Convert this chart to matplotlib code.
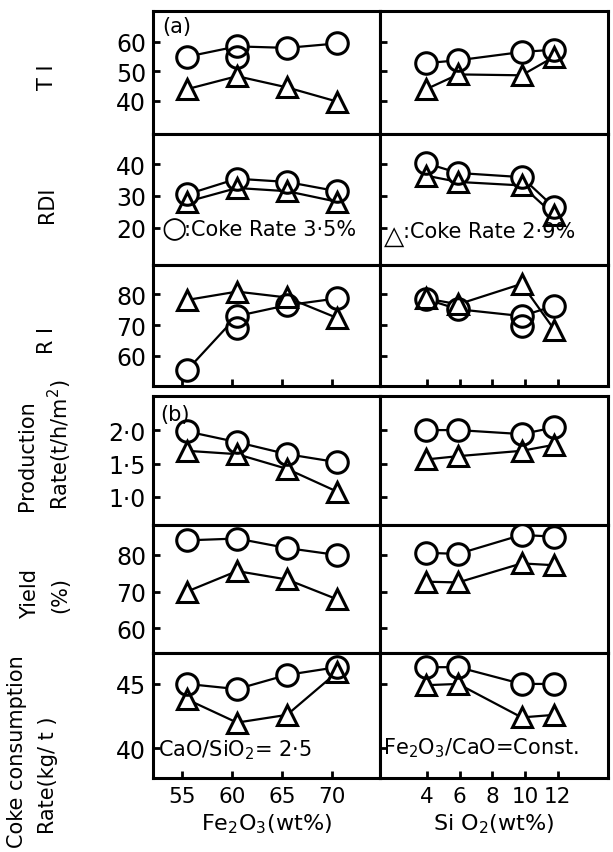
import matplotlib
matplotlib.use("Agg")
import matplotlib.pyplot as plt

plt.rcParams['font.family'] = ['DejaVu Sans']
plt.rcParams['mathtext.fontset'] = 'dejavusans'

# x values
fe2o3 = [55.5, 60.5, 65.5, 70.5]
sio2 = [3.9, 5.9, 9.8, 11.8]

# TI
ti_fe_c = [55, 58.5, 58, 59.5]
ti_fe_t = [44, 48.4, 44.6, 39.8]
ti_si_c = [52.8, 53.8, 56.6, 57.4]
ti_si_t = [43.9, 49, 48.7, 55]
ti_fe_extra_x, ti_fe_extra = [60.5], [55]

# RDI
rdi_fe_c = [30.5, 35.4, 34.4, 31.5]
rdi_fe_t = [28.2, 32.5, 31.5, 28.2]
rdi_si_c = [40.3, 37.2, 35.9, 26.4]
rdi_si_t = [36.4, 34.4, 33.3, 24]

# RI
ri_fe_c = [55.4, 72.9, 76.4, 78.6]
ri_fe_t = [78.1, 80.8, 78.9, 72.3]
ri_si_c = [78.4, 75.1, 72.9, 76.2]
ri_si_t = [78.6, 76.7, 83.3, 68.5]
ri_fe_extra_x, ri_fe_extra = [60.5], [69.1]
ri_si_extra_x, ri_si_extra = [9.8], [69.6]

# production rate
prod_fe_c = [1.98, 1.82, 1.64, 1.52]
prod_fe_t = [1.69, 1.64, 1.42, 1.08]
prod_si_c = [2.0, 2.0, 1.94, 2.04]
prod_si_t = [1.56, 1.61, 1.69, 1.78]

# yield
yield_fe_c = [84, 84.5, 81.9, 80]
yield_fe_t = [70, 75.6, 73.3, 67.9]
yield_si_c = [80.6, 80.3, 85.5, 85]
yield_si_t = [72.7, 72.5, 77.7, 77.2]

# coke consumption
coke_fe_c = [45, 44.6, 45.7, 46.3]
coke_fe_t = [43.8, 42, 42.6, 45.9]
coke_si_c = [46.3, 46.3, 45, 45]
coke_si_t = [44.9, 45, 42.4, 42.6]

fe_ticks = [55, 60, 65, 70]
si_ticks = [4, 6, 8, 10, 12]

W, H = 613, 853
fig = plt.figure(figsize=(W / 100, H / 100), dpi=100)

rows = [(12, 135), (135, 266), (266, 387), (397, 526), (526, 654), (654, 779)]
cols = [(153, 380), (380, 608)]
ylims = [(28.8, 70.5), (8.4, 49.4), (50.3, 89.4), (0.58, 2.51), (53.2, 88.2), (37.7, 47.4)]
yticks = [[40, 50, 60], [20, 30, 40], [60, 70, 80], [1.0, 1.5, 2.0], [60, 70, 80], [40, 45]]
ylabels_txt = [["40", "50", "60"], ["20", "30", "40"], ["60", "70", "80"],
               ["1·0", "1·5", "2·0"], ["60", "70", "80"], ["40", "45"]]

data = [
    ((ti_fe_c, ti_fe_t), (ti_si_c, ti_si_t)),
    ((rdi_fe_c, rdi_fe_t), (rdi_si_c, rdi_si_t)),
    ((ri_fe_c, ri_fe_t), (ri_si_c, ri_si_t)),
    ((prod_fe_c, prod_fe_t), (prod_si_c, prod_si_t)),
    ((yield_fe_c, yield_fe_t), (yield_si_c, yield_si_t)),
    ((coke_fe_c, coke_fe_t), (coke_si_c, coke_si_t)),
]


def markers(ax, x, y, marker, ms):
    # white fill hides the line, then an unfilled outline on top
    ax.plot(x, y, ls='none', marker=marker, ms=ms, mfc='white', mec='none', zorder=3)
    ax.plot(x, y, ls='none', marker=marker, ms=ms, mfc='none', mec='k', mew=2.2, zorder=4)


axes = []
for r, (top, bot) in enumerate(rows):
    row_axes = []
    for c, (left, right) in enumerate(cols):
        ax = fig.add_axes([left / W, 1 - bot / H, (right - left) / W, (bot - top) / H])
        x = fe2o3 if c == 0 else sio2
        yc, yt = data[r][c]
        ax.plot(x, yc, color='k', lw=1.6, zorder=2)
        ax.plot(x, yt, color='k', lw=1.6, zorder=2)
        markers(ax, x, yc, 'o', 15.5)
        markers(ax, x, yt, '^', 14)

        ax.set_xlim((52.1, 74.8) if c == 0 else (1.1, 15.1))
        ax.set_ylim(*ylims[r])
        ax.set_yticks(yticks[r])
        ax.set_yticklabels(ylabels_txt[r])
        ax.tick_params(axis='y', direction='in', length=5, width=2, labelsize=17, pad=5,
                       labelleft=(c == 0))
        if r in (2, 5):
            ax.set_xticks(fe_ticks if c == 0 else si_ticks)
            ax.tick_params(axis='x', direction='in', length=5, width=2, labelsize=15.5, pad=6,
                           labelbottom=(r == 5))
        else:
            ax.set_xticks([])
        for s in ax.spines.values():
            s.set_linewidth(2.2)
        row_axes.append(ax)
    axes.append(row_axes)

# repeated measurements
markers(axes[0][0], ti_fe_extra_x, ti_fe_extra, 'o', 15.5)
markers(axes[2][0], ri_fe_extra_x, ri_fe_extra, 'o', 15.5)
markers(axes[2][1], ri_si_extra_x, ri_si_extra, 'o', 15.5)

axes[0][0].text(0.04, 0.88, "(a)", transform=axes[0][0].transAxes, fontsize=15, va='center')
axes[3][0].text(0.03, 0.86, "(b)", transform=axes[3][0].transAxes, fontsize=15, va='center')

# legend texts
axes[1][0].text(0.093, 0.285, "○", transform=axes[1][0].transAxes, fontsize=21,
                ha='center', va='center')
axes[1][0].text(0.137, 0.275, ":Coke Rate 3·5%", transform=axes[1][0].transAxes,
                fontsize=15, va='center')
axes[1][1].text(0.061, 0.225, "△", transform=axes[1][1].transAxes, fontsize=19,
                ha='center', va='center')
axes[1][1].text(0.10, 0.26, ":Coke Rate 2·9%", transform=axes[1][1].transAxes,
                fontsize=15, va='center')

axes[5][0].text(0.022, 0.23, r"CaO/SiO$_2$= 2·5", transform=axes[5][0].transAxes,
                fontsize=15, va='center')
axes[5][1].text(0.013, 0.25, r"Fe$_2$O$_3$/CaO=Const.", transform=axes[5][1].transAxes,
                fontsize=15, va='center')

axes[5][0].set_xlabel(r"Fe$_2$O$_3$(wt%)", fontsize=16, labelpad=4)
axes[5][1].set_xlabel(r"Si O$_2$(wt%)", fontsize=16, labelpad=4)

# row labels
def ylab(x, y, s):
    fig.text(x / W, 1 - y / H, s, rotation=90, ha='center', va='center', fontsize=15)

ylab(47, 77, "T I")
ylab(47, 205, "RDI")
ylab(47, 340, "R I")
ylab(27, 456, "Production")
ylab(60, 445, r"Rate(t/h/m$^2$)")
ylab(30, 594, "Yield")
ylab(60, 595, "(%)")
ylab(17, 752, "Coke consumption")
ylab(48, 775, "Rate(kg/ t )")

fig.savefig("out.png", dpi=100)
